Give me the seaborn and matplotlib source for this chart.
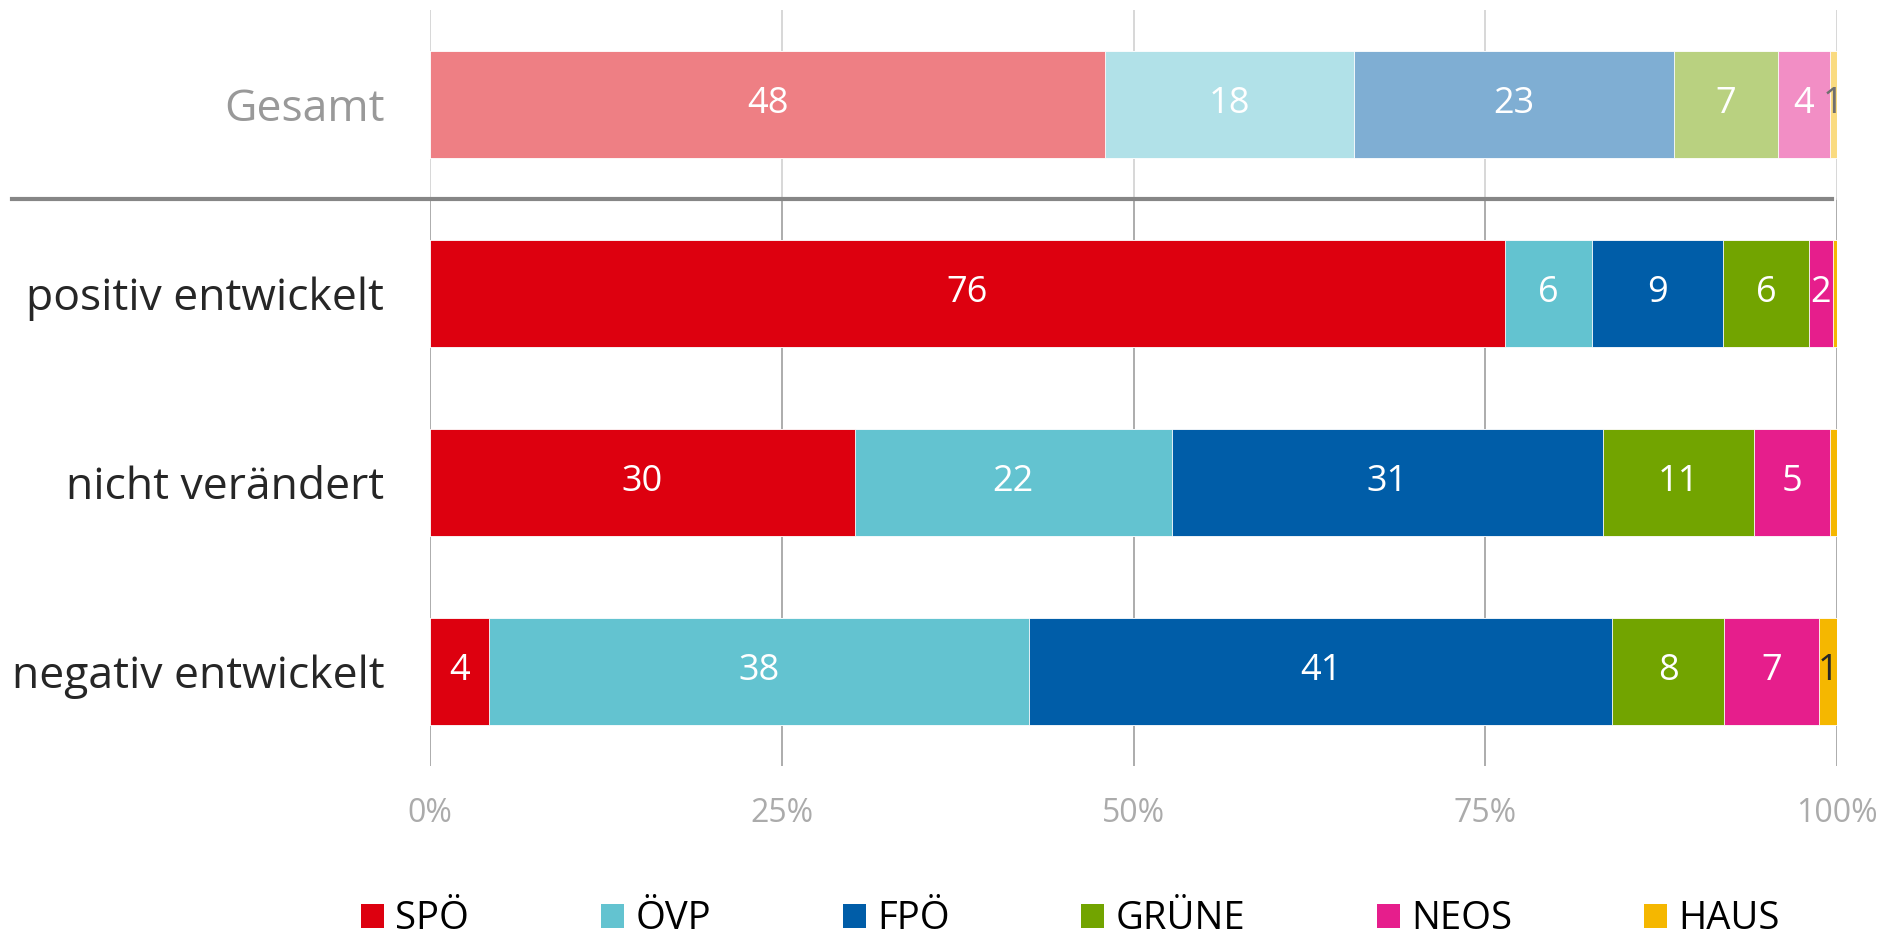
import numpy as np
import pandas as pd
import matplotlib
matplotlib.use('Agg')
import matplotlib.pyplot as plt
import matplotlib.transforms as mtransforms
from matplotlib.patches import Patch
import seaborn as sns

# data (shares in %, labels as printed)
categories = ['Gesamt', 'positiv entwickelt', 'nicht verändert', 'negativ entwickelt']
parties = ['SPÖ', 'ÖVP', 'FPÖ', 'GRÜNE', 'NEOS', 'HAUS']
spoe = [48.0, 76.4, 30.2, 4.2]
oevp = [17.7, 6.2, 22.5, 38.4]
fpoe = [22.7, 9.3, 30.7, 41.4]
gruene = [7.4, 6.1, 10.7, 8.0]
neos = [3.7, 1.7, 5.4, 6.7]
haus = [0.5, 0.3, 0.5, 1.3]
labels = [
    ['48', '18', '23', '7', '4', '1'],
    ['76', '6', '9', '6', '2', ''],
    ['30', '22', '31', '11', '5', ''],
    ['4', '38', '41', '8', '7', '1'],
]

colors = ['#DD000F', '#63C3D0', '#005DA8', '#72A400', '#E61E8C', '#F5B700']
light = ['#EE7F84', '#B1E1E8', '#7FAED3', '#B9D180', '#F28EC5', '#FADB80']

plt.rcParams['font.family'] = ['Open Sans', 'DejaVu Sans']

df = pd.DataFrame({'SPÖ': spoe, 'ÖVP': oevp, 'FPÖ': fpoe, 'GRÜNE': gruene,
                   'NEOS': neos, 'HAUS': haus}, index=categories)
cum = df.cumsum(axis=1)

fig = plt.figure(figsize=(18.88, 9.43), dpi=100)
ax = fig.add_axes([0.2278, 0.1877, 0.7452, 0.8017])

# stacked bars: draw cumulative totals from the last party backwards
for i in reversed(range(len(parties))):
    p = parties[i]
    pal = [light[i], colors[i], colors[i], colors[i]]
    sns.barplot(x=cum[p].values, y=categories, hue=categories, palette=pal,
                saturation=1, legend=False, width=0.57, ax=ax, orient='h',
                edgecolor='white', linewidth=0.6)

# value labels
for r, cat in enumerate(categories):
    left = 0
    for i, p in enumerate(parties):
        w = df.loc[cat, p]
        txt = labels[r][i]
        if txt:
            if p == 'HAUS':
                c = '#6f6f6f' if r == 0 else '#262626'
            else:
                c = 'white'
            ax.text(left + w / 2, r, txt, ha='center', va='center',
                    fontsize=26, color=c)
        left += w

ax.set_xlim(0, 100)
ax.set_ylim(3.5, -0.5)
ax.set_xticks([0, 25, 50, 75, 100])
ax.set_xticklabels(['0%', '25%', '50%', '75%', '100%'], fontsize=23, color='#ababab')
ax.set_ylabel('')
ax.set_xlabel('')
ax.tick_params(axis='x', length=0, pad=22)
ax.tick_params(axis='y', length=0, pad=33, labelsize=32)
for t in ax.get_yticklabels():
    t.set_color('#999999' if t.get_text() == 'Gesamt' else '#262626')
for s in ax.spines.values():
    s.set_visible(False)

# vertical grid, lighter above the separator
for xv in [0, 25, 50, 75, 100]:
    ax.plot([xv, xv], [0.5, 3.5], color='#a6a6a6', lw=1.3, zorder=0)
    ax.plot([xv, xv], [-0.5, 0.5], color='#d4d4d4', lw=1.3, zorder=0)

# separator line between Gesamt and the rest
trans = mtransforms.blended_transform_factory(ax.transAxes, ax.transData)
ax.plot([-0.297, 0.9966], [0.5, 0.5], color='#868686', lw=3,
        transform=trans, clip_on=False, zorder=5)

handles = [Patch(facecolor=c, label=p) for p, c in zip(parties, colors)]
fig.legend(handles=handles, loc='center', bbox_to_anchor=(0.567, 0.025), ncol=6,
           frameon=False, fontsize=27.5, handlelength=0.6, handleheight=0.6,
           handletextpad=0.3, columnspacing=3.45, borderpad=0.2)

fig.savefig('out.png', dpi=100)
